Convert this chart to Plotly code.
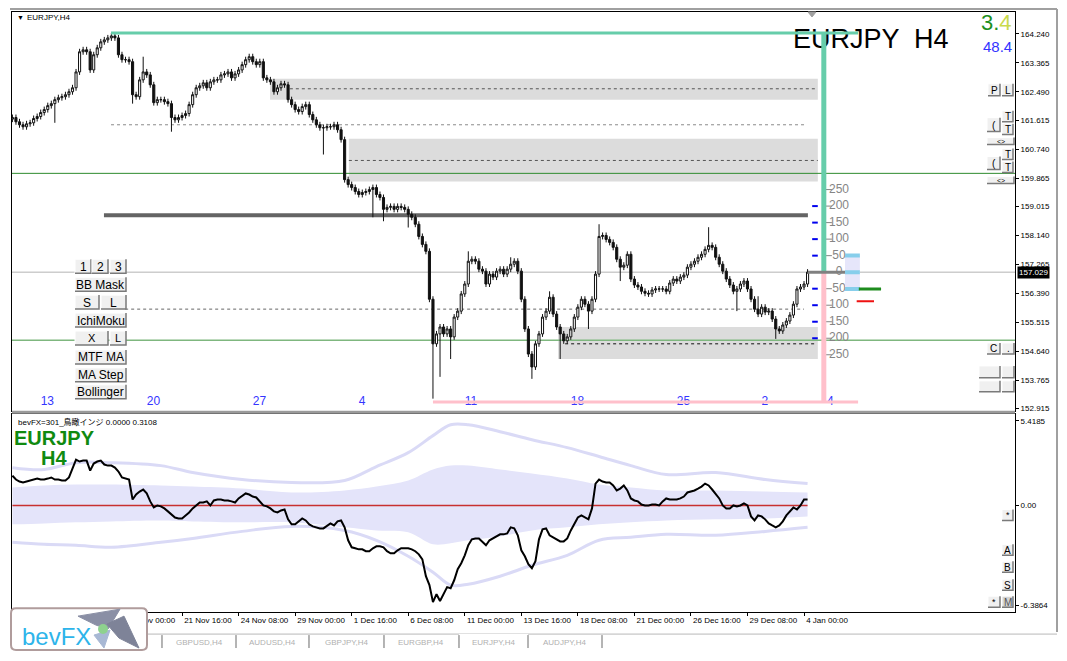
import plotly.graph_objects as go

# page body has an 8px margin: figure occupies screen pixels 8..1067 x 8..661
OFF = 8
W, H = 1067 - OFF, 661 - OFF

# ---------------- DATA ----------------
candle_idx = list(range(-8, 218))   # H4 bars; 0 = 13 Nov 00:00
first_open = 161.66
close = [
    161.71, 161.58, 161.49, 161.43, 161.52, 161.55, 161.68, 161.74,
    161.86, 161.95, 162.07, 162.13, 162.25, 162.31,
    162.34, 162.40, 162.49, 162.61, 163.09, 163.70,
    163.76, 163.70, 163.15, 163.61, 163.82, 164.00,
    164.06, 164.12, 164.18, 164.12, 163.61, 163.46,
    163.46, 163.40, 162.40, 162.34, 162.85, 163.09,
    163.00, 162.70, 162.16, 162.25, 162.25, 162.19,
    162.13, 161.71, 161.64, 161.71, 161.77, 161.83,
    162.10, 162.40, 162.61, 162.67, 162.76, 162.61,
    162.79, 162.85, 162.85, 163.00, 163.03, 163.09,
    162.91, 163.03, 163.15, 163.31, 163.46, 163.55,
    163.40, 163.31, 163.40, 162.91, 162.85, 162.79,
    162.49, 162.61, 162.73, 162.70, 162.25, 162.10,
    161.95, 161.89, 162.04, 162.10, 161.80, 161.64,
    161.49, 161.40, 161.40, 161.43, 161.43, 161.49,
    161.34, 161.04, 159.83, 159.68, 159.59, 159.47,
    159.38, 159.44, 159.47, 159.53, 159.59, 159.38,
    159.29, 158.93, 158.99, 159.02, 158.93, 159.02,
    158.99, 158.93, 158.78, 158.69, 158.48, 158.11,
    157.87, 157.66, 156.21, 154.86, 155.16, 155.37,
    155.16, 155.31, 155.07, 155.67, 155.85, 156.37,
    156.67, 157.36, 157.42, 157.36, 157.12, 157.06,
    156.67, 156.97, 156.88, 157.06, 157.12, 156.97,
    157.12, 157.27, 157.36, 157.06, 156.21, 155.31,
    154.55, 154.16, 154.86, 155.16, 155.67, 155.85,
    156.27, 155.76, 155.37, 155.16, 154.95, 155.07,
    155.31, 155.67, 155.97, 156.21, 156.06, 155.85,
    156.21, 156.97, 158.11, 158.14, 158.02, 157.93,
    157.78, 157.42, 157.18, 157.24, 157.57, 156.82,
    156.64, 156.58, 156.45, 156.39, 156.37, 156.49,
    156.52, 156.52, 156.52, 156.45, 156.70, 156.82,
    156.76, 156.88, 156.94, 157.18, 157.27, 157.36,
    157.48, 157.57, 157.72, 157.84, 157.78, 157.48,
    157.27, 157.06, 156.82, 156.64, 156.45, 156.52,
    156.67, 156.76, 156.52, 156.21, 155.91, 155.76,
    155.97, 155.82, 155.85, 155.61, 155.31, 155.25,
    155.43, 155.55, 155.73, 156.06, 156.52, 156.58,
    156.67, 157.03,
]
wick = 0.09
high_override = {12: 163.85, 20: 164.27, 29: 163.55, 121: 157.66, 133: 157.48,
                 144: 156.45, 158: 158.48, 189: 158.39, 203: 156.30}
low_override = {4: 161.55, 26: 162.13, 37: 161.28, 80: 160.59, 94: 158.69, 97: 158.57,
                104: 158.38, 111: 153.20, 113: 153.86, 116: 154.40, 139: 153.80,
                147: 154.40, 155: 155.31, 164: 156.76, 197: 155.85, 208: 155.01}

osc = [
    1.91, 1.66, 1.53, 1.47, 1.53, 1.60, 1.66, 1.72,
    1.66, 1.66, 1.72, 1.79, 1.66, 1.66,
    1.60, 1.60, 1.79, 2.36, 2.93, 2.81,
    2.87, 2.87, 2.23, 2.68, 2.81, 2.87,
    2.62, 2.55, 2.55, 2.42, 2.17, 1.79,
    1.72, 1.66, 0.38, 0.70, 0.89, 1.02,
    0.77, 0.26, -0.13, 0.00, -0.06, -0.19,
    -0.38, -0.57, -0.77, -0.83, -0.83, -0.64,
    -0.45, -0.19, 0.00, 0.19, 0.19, 0.26,
    0.00, 0.32, 0.38, 0.38, 0.32, 0.32,
    0.26, 0.19, 0.45, 0.64, 0.77, 0.70,
    0.57, 0.51, 0.26, 0.00, -0.06, -0.19,
    -0.38, -0.45, -0.32, -0.26, -0.89, -1.21,
    -1.21, -1.02, -0.83, -0.96, -1.21, -1.34,
    -1.40, -1.47, -1.47, -1.28, -1.15, -1.28,
    -1.02, -0.96, -1.40, -2.23, -2.68, -2.74,
    -2.81, -2.81, -2.93, -2.93, -2.74, -2.62,
    -2.62, -2.68, -2.93, -3.06, -3.06, -2.87,
    -2.74, -2.74, -2.74, -2.81, -2.93, -3.13,
    -3.45, -4.53, -5.10, -6.19, -5.68, -6.12,
    -5.68, -5.23, -5.30, -4.79, -4.08, -3.70,
    -3.19, -2.55, -2.17, -2.11, -2.11, -2.36,
    -2.55, -2.23, -2.11, -1.98, -1.85, -1.85,
    -1.79, -1.40, -1.47, -1.91, -2.87, -3.25,
    -3.76, -4.02, -3.57, -2.17, -1.53, -1.47,
    -1.91, -2.04, -2.17, -2.30, -2.30, -2.11,
    -1.60, -1.21, -0.77, -0.64, -0.77, -0.89,
    -0.19, 1.40, 1.66, 1.53, 1.47, 1.47,
    1.28, 0.96, 1.08, 1.28, 0.96, 0.45,
    0.32, 0.26, 0.06, 0.00, 0.00, 0.06,
    0.06, 0.00, 0.26, 0.45, 0.38, 0.38,
    0.38, 0.45, 0.57, 0.83, 0.89, 0.96,
    1.08, 1.21, 1.40, 1.28, 1.02, 0.77,
    0.45, 0.00, -0.19, -0.19, 0.00, -0.06,
    0.00, 0.13, 0.00, -0.70, -0.96, -0.64,
    -0.70, -0.89, -1.15, -1.28, -1.40, -1.28,
    -1.02, -0.64, -0.38, -0.13, -0.26, 0.00,
    0.38, 0.38,
]

band_idx = [-8, 1, 10, 20, 34, 43, 57, 71, 86, 95, 104, 111, 116, 121, 130, 139, 149, 158, 167, 177, 191, 205, 217]
outer_up = [2.42, 2.30, 2.74, 2.74, 2.55, 2.11, 1.66, 1.47, 1.60, 2.49, 3.38, 4.47, 5.17, 5.17, 4.72, 4.21, 3.70, 3.13, 2.55, 1.98, 2.11, 1.66, 1.40]
inner_up = [1.15, 1.28, 1.34, 1.34, 1.28, 1.21, 1.08, 0.83, 0.96, 1.21, 1.60, 2.30, 2.55, 2.55, 2.30, 2.04, 1.72, 1.34, 1.15, 0.96, 0.96, 0.89, 0.83]
inner_lo = [-1.21, -1.15, -1.08, -1.02, -0.96, -1.02, -1.08, -1.08, -1.40, -1.60, -1.72, -2.49, -2.42, -2.23, -1.98, -1.60, -1.40, -1.21, -1.08, -0.96, -0.89, -0.83, -0.70]
outer_lo = [-2.36, -2.49, -2.55, -2.68, -2.36, -2.11, -1.66, -1.34, -1.60, -2.23, -3.25, -4.27, -5.10, -5.04, -4.53, -3.83, -3.19, -2.23, -2.04, -1.85, -1.91, -1.66, -1.40]

price_ticks = [164.240, 163.365, 162.490, 161.615, 160.740, 159.865, 159.015,
               158.140, 157.265, 156.390, 155.515, 154.640, 153.765, 152.915]
last_price = 157.029
osc_ticks = [5.4185, 0.0, -6.3864]
osc_tick_text = ["5.4185", "0.00", "-6.3864"]

time_tick_idx = [8, 24, 40, 56, 72, 88, 104, 120, 136, 152, 168, 184, 200, 216]
time_tick_text = ["14 Nov 08:00", "17 Nov 00:00", "21 Nov 16:00", "24 Nov 08:00", "29 Nov 00:00",
                  "1 Dec 16:00", "6 Dec 08:00", "11 Dec 00:00", "13 Dec 16:00", "18 Dec 08:00",
                  "21 Dec 00:00", "26 Dec 16:00", "29 Dec 08:00", "4 Jan 00:00"]
day_idx = [0, 30, 60, 90, 120, 150, 180, 204, 222.5]
day_text = ["13", "20", "27", "4", "11", "18", "25", "2", "4"]

# zones (candle index span, price span)
zone_x0 = [64.9, 87.2, 146.4]
zone_x1 = [219.9, 219.9, 219.9]
zone_lo = [162.25, 159.77, 154.40]
zone_hi = [162.88, 161.07, 155.37]
dash_price = [162.58, 161.49, 160.41, 155.91, 154.86]
dash_x0 = [70.5, 19.9, 87.2, 23.9, 148.4]
dash_x1 = [219.9, 216.3, 219.9, 216.0, 219.6]
dash_color = ["#555555", "#8a8a8a", "#555555", "#666666", "#111111"]
support_price = 158.75
green_levels = [160.02, 154.97]
hh_price, ll_price = 164.27, 153.10
hh_idx, ll_idx = 19.9, 111.0
marker_idx = 221.6
pip_levels = [250, 200, 150, 100, 50, 0, -50, -100, -150, -200, -250]

# ---------------- derived ----------------
opens = [first_open] + close[:-1]
highs, lows = [], []
for k, i in enumerate(candle_idx):
    o, c = opens[k], close[k]
    highs.append(high_override.get(i, max(o, c) + wick))
    lows.append(low_override.get(i, min(o, c) - wick))


def px(x):
    return (x - OFF) / W


def py(y):
    return 1 - (y - OFF) / H


FONT = "Liberation Sans, Arial, sans-serif"
X_RANGE = [-8.121, 275.70]
Y_RANGE = [152.834, 164.904]
O_RANGE = [-6.83, 5.87]

fig = go.Figure()

# ---- main pane ----
fig.add_trace(go.Candlestick(
    x=candle_idx, open=opens, high=highs, low=lows, close=close,
    increasing=dict(line=dict(color="#111111", width=1), fillcolor="white"),
    decreasing=dict(line=dict(color="#111111", width=1), fillcolor="#111111"),
    whiskerwidth=0, hoverinfo="skip", showlegend=False, xaxis="x", yaxis="y"))

fig.add_trace(go.Scatter(
    x=day_idx, y=[153.10] * len(day_idx), text=day_text, mode="text",
    textposition="middle right", textfont=dict(color="#3535FF", size=12, family=FONT),
    hoverinfo="skip", showlegend=False, cliponaxis=False, xaxis="x", yaxis="y"))

fig.add_trace(go.Scatter(
    x=[212.9], y=[164.03], text=["EURJPY  H4"], mode="text", textposition="middle right",
    textfont=dict(color="black", size=27, family=FONT),
    hoverinfo="skip", showlegend=False, cliponaxis=False, xaxis="x", yaxis="y"))

pip_prices = [last_price + p / 100.0 for p in pip_levels]
fig.add_trace(go.Scatter(
    x=[225.9] * len(pip_levels), y=pip_prices, text=[str(abs(p)) for p in pip_levels],
    mode="text", textposition="middle center",
    textfont=dict(color="#858585", size=12, family=FONT),
    hoverinfo="skip", showlegend=False, cliponaxis=False, xaxis="x", yaxis="y"))
fig.add_trace(go.Scatter(
    x=[222.9] * len(pip_levels), y=pip_prices, mode="markers",
    marker=dict(symbol="line-ew", size=5, line=dict(color="#858585", width=1)),
    hoverinfo="skip", showlegend=False, cliponaxis=False, xaxis="x", yaxis="y"))
blue_lv = [p for p in pip_levels if p != 0 and abs(p) <= 200]
fig.add_trace(go.Scatter(
    x=[219.1] * len(blue_lv), y=[last_price + p / 100.0 for p in blue_lv], mode="markers",
    marker=dict(symbol="line-ew", size=4, line=dict(color="#0000EE", width=2)),
    hoverinfo="skip", showlegend=False, cliponaxis=False, xaxis="x", yaxis="y"))

# ---- indicator pane ----
fig.add_trace(go.Scatter(x=band_idx, y=inner_up, mode="lines", line=dict(width=0, shape="spline"),
                         hoverinfo="skip", showlegend=False, xaxis="x2", yaxis="y2"))
fig.add_trace(go.Scatter(x=band_idx, y=inner_lo, mode="lines", line=dict(width=0, shape="spline"),
                         fill="tonexty", fillcolor="#E4E4FA",
                         hoverinfo="skip", showlegend=False, xaxis="x2", yaxis="y2"))
for arr in (outer_up, outer_lo):
    fig.add_trace(go.Scatter(x=band_idx, y=arr, mode="lines",
                             line=dict(color="#DADAF6", width=3, shape="spline"),
                             hoverinfo="skip", showlegend=False, xaxis="x2", yaxis="y2"))
fig.add_trace(go.Scatter(x=[candle_idx[0], candle_idx[-1]], y=[0, 0], mode="lines",
                         line=dict(color="#C83030", width=1.6),
                         hoverinfo="skip", showlegend=False, xaxis="x2", yaxis="y2"))
fig.add_trace(go.Scatter(x=candle_idx, y=osc, mode="lines", line=dict(color="black", width=2),
                         hoverinfo="skip", showlegend=False, xaxis="x2", yaxis="y2"))
# time-axis labels (left aligned at their ticks, like MT4) on a thin strip axis
fig.add_trace(go.Scatter(
    x=[t + 0.6 for t in time_tick_idx], y=[0.5] * len(time_tick_idx),
    text=time_tick_text, mode="text", textposition="middle right",
    textfont=dict(size=8, color="black", family=FONT),
    hoverinfo="skip", showlegend=False, cliponaxis=False, xaxis="x2", yaxis="y3"))

shapes = []
annots = []


def dline(x0, x1, y0, y1, color, width, dash="solid", layer="below"):
    shapes.append(dict(type="line", xref="x", yref="y", x0=x0, x1=x1, y0=y0, y1=y1,
                       line=dict(color=color, width=width, dash=dash), layer=layer))


# zones
for a, b, lo, hi in zip(zone_x0, zone_x1, zone_lo, zone_hi):
    shapes.append(dict(type="rect", xref="x", yref="y", x0=a, x1=b, y0=lo, y1=hi,
                       fillcolor="#DCDCDC", line=dict(width=0), layer="below"))
for p, a, b, c in zip(dash_price, dash_x0, dash_x1, dash_color):
    dline(a, b, p, p, c, 1, dash="3px,3px")
# full-width lines
dline(X_RANGE[0], X_RANGE[1], last_price, last_price, "#B4B4B4", 1)
dline(X_RANGE[0], X_RANGE[1], green_levels[0], green_levels[0], "#2E8B2E", 1)
dline(X_RANGE[0], X_RANGE[1], green_levels[1], green_levels[1], "#7FB77F", 1.6)
dline(17.9, 217.1, support_price, support_price, "#646464", 4)
# highest high / lowest low markers
dline(hh_idx, 231.3, hh_price, hh_price, "#66CDAA", 3, layer="above")
dline(ll_idx, 231.3, ll_price, ll_price, "#FFC0CB", 3, layer="above")
dline(marker_idx, marker_idx, hh_price, last_price, "#66CDAA", 5, layer="above")
dline(marker_idx, marker_idx, last_price, ll_price, "#FFC0CB", 5, layer="above")
# spread box
shapes.append(dict(type="rect", xref="x", yref="y", x0=227.6, x1=231.8, y0=156.52, y1=157.53,
                   fillcolor="#E6E6FA", line=dict(width=0), layer="above"))
for p in (157.53, 156.52):
    dline(227.6, 231.8, p, p, "#87CEEB", 4, layer="above")
dline(217.1, 227.6, last_price, last_price, "#808080", 3, layer="above")
dline(227.6, 231.8, last_price, last_price, "#87CEEB", 4, layer="above")
dline(231.5, 237.8, 156.52, 156.52, "#1E8C1E", 3, layer="above")
dline(230.9, 235.8, 156.15, 156.15, "#EE1111", 2, layer="above")


def prect(x0, y0, x1, y1, fill, lc=None, lw=0, layer="above"):
    shapes.append(dict(type="rect", xref="paper", yref="paper", x0=px(x0), x1=px(x1),
                       y0=py(y1), y1=py(y0), fillcolor=fill,
                       line=dict(width=lw, color=lc or fill), layer=layer))


def ppath(pts, color, width=1, fill=None, close_=False):
    d = "M " + " L ".join(f"{px(x):.5f},{py(y):.5f}" for x, y in pts)
    if close_:
        d += " Z"
    s = dict(type="path", xref="paper", yref="paper", path=d,
             line=dict(color=color, width=width), layer="above")
    if fill:
        s["fillcolor"] = fill
    shapes.append(s)


def text(x, y, t, size=8, color="black", anchor="left", family=FONT, bold=False, bg=None):
    a = dict(xref="paper", yref="paper", x=px(x), y=py(y), text=f"<b>{t}</b>" if bold else t,
             showarrow=False, xanchor=anchor, yanchor="middle",
             font=dict(size=size, color=color, family=family))
    if bg:
        a["bgcolor"] = bg
    annots.append(a)


def button(x0, y0, x1, y1, label, size=12, bg="#F0F0F0", fc="black"):
    prect(x0, y0, x1, y1, bg)
    ppath([(x0, y1), (x0, y0), (x1, y0)], "white", 1)
    ppath([(x0, y1), (x1, y1), (x1, y0)], "#7A7A7A", 1.5)
    if label:
        text((x0 + x1) / 2, (y0 + y1) / 2 + 0.5, label, size=size, color=fc, anchor="center")


# window frame
ppath([(10, 9), (1057, 9)], "#A0A0A0", 2)
ppath([(1057, 9), (1057, 634)], "#A0A0A0", 2)
prect(12, 412, 1015, 415, "#9A9A9A")
# small marker at top
ppath([(808, 12), (816, 12), (812, 17)], "#A0A0A0", 1, fill="#A0A0A0", close_=True)

# left buttons
button(75, 260, 91, 274, "1")
button(92, 260, 108, 274, "2")
button(110, 260, 126, 274, "3")
button(75, 278, 126, 292, "BB Mask")
button(75, 296, 99, 310, "S")
button(101, 296, 126, 310, "L")
button(75, 314, 126, 328, "IchiMoku")
button(75, 332, 108, 346, "X", size=11)
button(110, 332, 126, 346, "L", size=11)
button(75, 351, 126, 365, "MTF MA")
button(75, 369, 126, 383, "MA Step")
button(75, 386, 126, 400, "Bollinger")
# right buttons main pane
button(988, 84, 1000, 96, "P", size=10)
button(1002, 84, 1013, 96, "L", size=10)
button(987, 118, 1000, 132, "(", size=10)
button(1002, 111, 1013, 122, "T", size=10)
button(1002, 124, 1013, 135, "T", size=10)
button(987, 138, 1014, 145, "&lt;&gt;", size=7)
button(987, 157, 1000, 170, "(", size=10)
button(1002, 149, 1013, 160, "T", size=10)
button(1002, 162, 1013, 173, "T", size=10)
button(987, 177, 1014, 184, "&lt;&gt;", size=7)
button(987, 344, 1000, 355, "C", size=10)
button(1002, 344, 1014, 355, ".", size=10)
button(979, 367, 1000, 379, "")
button(1002, 367, 1014, 379, "")
button(979, 382, 1000, 393, "")
button(1002, 382, 1014, 393, "")
# right buttons indicator pane
button(1002, 511, 1013, 522, "*", size=9)
button(1002, 546, 1013, 557, "A", size=10)
button(1002, 563, 1013, 574, "B", size=10)
button(1002, 581, 1013, 592, "S", size=10)
button(988, 598, 1000, 609, "*", size=9)
button(1002, 598, 1013, 609, "M", size=10, bg="#D4D4D4", fc="#555555")

# texts
text(15, 18, "▼", size=7)
text(25, 18, "EURJPY,H4", size=8)
text(996, 23, '<span style="color:#1E8F1E">3.</span><span style="color:#C9DA4A">4</span>',
     size=22, anchor="center")
text(997, 47, "48.4", size=15, color="#3333FF", anchor="center")
text(16, 423, "bevFX=301_鳥瞰インジ 0.0000 0.3108", size=8,
     family="Liberation Sans, Noto Sans CJK JP, sans-serif")
text(12, 439, "EURJPY", size=20, color="#108A10", bold=True)
text(39, 459, "H4", size=20, color="#108A10", bold=True)
# last price box
annots.append(dict(xref="paper", yref="y", x=px(1017), y=last_price, text="157.029",
                   showarrow=False, xanchor="left", yanchor="middle", bgcolor="black",
                   font=dict(size=8, color="white", family=FONT), borderpad=1))

# tab strip
ppath([(148, 636), (1057, 636)], "#B8B8B8", 1)
tab_edges = [162, 236, 309, 384, 459, 528, 602]
tab_names = ["GBPUSD,H4", "AUDUSD,H4", "GBPJPY,H4", "EURGBP,H4", "EURJPY,H4", "AUDJPY,H4"]
prect(459, 636, 528, 650, "white")
for e in tab_edges:
    ppath([(e, 637), (e, 650)], "#6A6A6A", 1)
for a, b, n in zip(tab_edges[:-1], tab_edges[1:], tab_names):
    text((a + b) / 2, 644, n, size=8, color="#B0B0B0", anchor="center")

# bevFX logo
r = 5
x0, y0, x1, y1 = 11, 610, 147, 652
pts = (f"M {px(x0 + r)},{py(y0)} L {px(x1 - r)},{py(y0)} Q {px(x1)},{py(y0)} {px(x1)},{py(y0 + r)} "
       f"L {px(x1)},{py(y1 - r)} Q {px(x1)},{py(y1)} {px(x1 - r)},{py(y1)} "
       f"L {px(x0 + r)},{py(y1)} Q {px(x0)},{py(y1)} {px(x0)},{py(y1 - r)} "
       f"L {px(x0)},{py(y0 + r)} Q {px(x0)},{py(y0)} {px(x0 + r)},{py(y0)} Z")
shapes.append(dict(type="path", xref="paper", yref="paper", path=pts, fillcolor="white",
                   line=dict(color="#B09C9C", width=2), layer="above"))
ppath([(78, 618), (120, 611), (108, 631), (96, 627)], "#8A8FA5", 1, fill="#8A8FA5", close_=True)
ppath([(107, 626), (124, 618), (139, 650), (119, 640)], "#7E8398", 1, fill="#7E8398", close_=True)
ppath([(94, 637), (110, 632), (104, 650)], "#A8B8D4", 1, fill="#A8B8D4", close_=True)
shapes.append(dict(type="circle", xref="paper", yref="paper", x0=px(98), x1=px(108),
                   y0=py(636), y1=py(626), fillcolor="#8ED28E", line=dict(width=0), layer="above"))
text(20, 638, "bevFX", size=24, color="#2DB4EA")

fig.update_layout(
    width=W, height=H, margin=dict(l=0, r=0, t=0, b=0),
    paper_bgcolor="white", plot_bgcolor="rgba(0,0,0,0)", showlegend=False,
    boxgap=0.15,
    xaxis=dict(domain=[px(12), px(1015)], range=X_RANGE, showticklabels=False, ticks="",
               showgrid=False, zeroline=False, showline=True, mirror=True, linecolor="black",
               linewidth=1, rangeslider=dict(visible=False), anchor="y", fixedrange=True),
    yaxis=dict(domain=[py(412), py(12)], range=Y_RANGE, side="right", tickvals=price_ticks,
               ticktext=[f"{v:.3f}" for v in price_ticks], ticks="outside", ticklen=3,
               tickcolor="black", tickfont=dict(size=8, family=FONT, color="black"),
               showgrid=False, zeroline=False, showline=True, mirror=True, linecolor="black",
               linewidth=1, anchor="x", fixedrange=True),
    xaxis2=dict(domain=[px(12), px(1015)], range=X_RANGE, tickvals=time_tick_idx,
                showticklabels=False, ticks="outside", ticklen=3, tickcolor="black",
                showgrid=False, zeroline=False, showline=True, mirror=True, linecolor="black",
                linewidth=1, anchor="y2", fixedrange=True),
    yaxis2=dict(domain=[py(614), py(415)], range=O_RANGE, side="right", tickvals=osc_ticks,
                ticktext=osc_tick_text, ticks="outside", ticklen=3, tickcolor="black",
                tickfont=dict(size=8, family=FONT, color="black"),
                showgrid=False, zeroline=False, showline=True, mirror=True, linecolor="black",
                linewidth=1, anchor="x2", fixedrange=True),
    yaxis3=dict(domain=[py(631), py(614)], range=[0, 1], visible=False, anchor="x2",
                fixedrange=True),
    shapes=shapes, annotations=annots,
)

fig.write_html("out.html")
